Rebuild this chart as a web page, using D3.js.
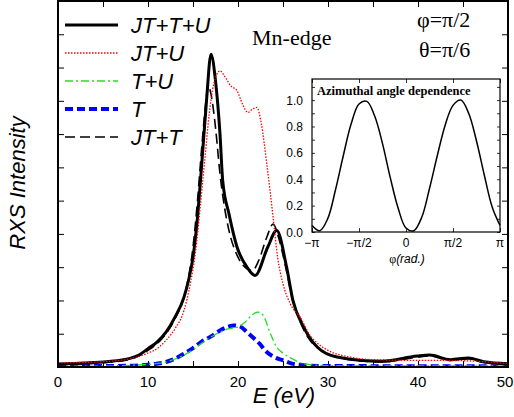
<!DOCTYPE html>
<html>
<head>
<meta charset="utf-8">
<script src="https://cdn.jsdelivr.net/npm/d3@7"></script>
<style>
  body { margin: 0; background: #fff; }
  svg { display: block; }
</style>
</head>
<body>
<div id="chart"></div>
<script>
// energy (eV) and RXS intensity (arb. units)
const jttuE = [0, 3, 5.4, 8, 9, 10, 11, 12, 13, 14, 14.5, 15, 15.5, 16, 16.5, 17, 17.5, 18, 18.3, 19, 19.9, 21, 21.9, 23.3, 24.3, 25.4, 26.1, 27.3, 28.8, 31, 36, 39.9, 41.3, 43.6, 45.6, 47.3, 50];
const jttuI = [0.09, 0.12, 0.16, 0.26, 0.36, 0.55, 0.75, 1.05, 1.5, 2.1, 2.6, 3.3, 4.5, 6.2, 8.0, 9.4, 8.6, 7.0, 5.6, 4.6, 3.6, 3.0, 2.75, 3.6, 4.1, 3.0, 2.0, 1.2, 0.6, 0.3, 0.17, 0.33, 0.36, 0.22, 0.27, 0.16, 0.1];

const jtuE = [0, 3, 5, 8, 10, 11, 12, 13, 14, 14.7, 15.3, 15.8, 16.3, 16.8, 17.3, 18, 18.6, 19.2, 19.9, 20.5, 21.1, 21.6, 22.1, 22.6, 23.2, 23.9, 24.4, 25, 25.8, 26.9, 28, 28.8, 30, 32.4, 35, 40, 42, 46, 50];
const jtuI = [0.12, 0.14, 0.16, 0.25, 0.42, 0.55, 0.8, 1.15, 1.7, 2.5, 3.5, 4.8, 6.2, 7.6, 8.5, 8.9, 8.7, 8.45, 8.3, 7.9, 7.65, 7.75, 7.8, 7.3, 6.1, 4.5, 3.3, 2.5, 1.9, 1.5, 0.95, 0.72, 0.5, 0.3, 0.22, 0.2, 0.2, 0.18, 0.1];

const tuE = [0, 5, 8, 10, 12, 13, 14, 15, 16, 17, 18, 19, 20, 20.8, 21.5, 22.2, 22.8, 23.6, 24.3, 25, 26, 27, 28, 30, 40, 50];
const tuI = [0.02, 0.03, 0.05, 0.08, 0.15, 0.24, 0.36, 0.52, 0.72, 0.9, 1.05, 1.15, 1.2, 1.35, 1.55, 1.65, 1.55, 1.0, 0.6, 0.42, 0.25, 0.12, 0.07, 0.04, 0.03, 0.03];

const tE = [0, 5, 8, 10, 11, 12, 13, 14, 15, 16, 17, 18, 19, 19.5, 20.2, 21, 22, 22.4, 23, 24, 25, 26, 27, 28, 30, 50];
const tI = [0.03, 0.03, 0.04, 0.07, 0.1, 0.15, 0.25, 0.4, 0.57, 0.77, 0.92, 1.1, 1.22, 1.25, 1.22, 1.05, 0.8, 0.7, 0.5, 0.3, 0.2, 0.1, 0.06, 0.04, 0.03, 0.02];

const jttE = [0, 5, 8, 10, 11, 12, 13, 14, 14.5, 15, 15.5, 16, 16.4, 16.7, 17, 17.5, 18, 18.5, 19, 20, 21, 21.6, 22.3, 23.2, 23.9, 24.5, 25.3, 26, 27, 28, 29, 31, 36, 40, 41.3, 43.6, 45.6, 47.3, 50];
const jttI = [0.07, 0.13, 0.23, 0.5, 0.7, 1.0, 1.45, 2.1, 2.7, 3.6, 5.0, 6.7, 7.9, 8.45, 8.2, 7.2, 5.8, 4.8, 4.1, 3.3, 2.95, 2.9, 3.2, 3.9, 4.3, 3.9, 3.0, 2.1, 1.3, 0.8, 0.55, 0.3, 0.15, 0.3, 0.33, 0.2, 0.25, 0.14, 0.1];

// inset: azimuthal angle dependence
const phiDeg = [-180, -165, -150, -135, -120, -105, -90, -75, -60, -45, -30, -15, 0, 15, 30, 45, 60, 75, 90, 105, 120, 135, 150, 165, 180];
const azimI = [0.05, 0.01, 0.1, 0.32, 0.58, 0.82, 0.97, 0.99, 0.88, 0.67, 0.41, 0.18, 0.03, 0.01, 0.11, 0.33, 0.58, 0.81, 0.96, 1.0, 0.9, 0.69, 0.43, 0.19, 0.05];

const eTicks = [0, 10, 20, 30, 40, 50];
const phiTicks = [-180, -90, 0, 90, 180];
const phiLabels = ["\u2212\u03c0", "\u2212\u03c0/2", "0", "\u03c0/2", "\u03c0"];
const azTicks = [0, 0.2, 0.4, 0.6, 0.8, 1.0];

const series = [
  { name: "JT+T+U", e: jttuE, v: jttuI, color: "#000", width: 3, dash: null },
  { name: "JT+U", e: jtuE, v: jtuI, color: "#f00", width: 1.3, dash: "1.5,1.5" },
  { name: "T+U", e: tuE, v: tuI, color: "#2d2", width: 1.3, dash: "8,3,2,3" },
  { name: "T", e: tE, v: tI, color: "#00f", width: 4, dash: "8,4" },
  { name: "JT+T", e: jttE, v: jttI, color: "#000", width: 1.6, dash: "10,5" }
];

const W = 514, H = 417;
const L = 58, R = 508, T = 1, B = 367;

const svg = d3.select("#chart").append("svg")
  .attr("width", W).attr("height", H);

const x = d3.scaleLinear().domain([0, 50]).range([L, R]);
const y = d3.scaleLinear().domain([0, 11]).range([B, T]);

svg.append("clipPath").attr("id", "clip")
  .append("rect").attr("x", L).attr("y", T).attr("width", R - L).attr("height", B - T);

// ticks (inward, every 5 eV / every unit)
const axB = svg.append("g").attr("transform", `translate(0,${B})`)
  .call(d3.axisBottom(x).tickValues(d3.range(0, 51, 5)).tickSize(-6).tickFormat(""));
const axT = svg.append("g").attr("transform", `translate(0,${T})`)
  .call(d3.axisTop(x).tickValues(d3.range(0, 51, 5)).tickSize(-6).tickFormat(""));
const axL = svg.append("g").attr("transform", `translate(${L},0)`)
  .call(d3.axisLeft(y).tickValues(d3.range(1, 11)).tickSize(-6).tickFormat(""));
const axR = svg.append("g").attr("transform", `translate(${R},0)`)
  .call(d3.axisRight(y).tickValues(d3.range(1, 11)).tickSize(-6).tickFormat(""));
[axB, axT, axL, axR].forEach(g => {
  g.select(".domain").remove();
  g.selectAll("line").attr("stroke", "#000").attr("stroke-width", 1);
});

// the last label would run past the page edge, so it is kept just inside
svg.append("g").selectAll("text").data(eTicks).join("text")
  .attr("x", d => Math.min(x(d), W - 9)).attr("y", 387)
  .attr("text-anchor", "middle")
  .attr("font-family", "Liberation Sans, Arial, sans-serif")
  .attr("font-size", 15)
  .text(d => d);

const line = d3.line()
  .x(d => x(d[0])).y(d => y(d[1]))
  .curve(d3.curveMonotoneX);

const plot = svg.append("g").attr("clip-path", "url(#clip)");
// draw order: thin ones on top of thick ones like the figure
[3, 2, 0, 4, 1].forEach(i => {
  const s = series[i];
  plot.append("path")
    .datum(s.e.map((e, k) => [e, s.v[k]]))
    .attr("d", line)
    .attr("fill", "none")
    .attr("stroke", s.color)
    .attr("stroke-width", s.width)
    .attr("stroke-dasharray", s.dash)
    .attr("stroke-linejoin", "round");
});

svg.append("rect")
  .attr("x", L).attr("y", T).attr("width", R - L).attr("height", B - T)
  .attr("fill", "none").attr("stroke", "#000").attr("stroke-width", 2);

// legend
const leg = svg.append("g");
series.forEach((s, i) => {
  const ly = 25 + i * 28;
  leg.append("line")
    .attr("x1", 65).attr("x2", 118).attr("y1", ly).attr("y2", ly)
    .attr("stroke", s.color).attr("stroke-width", s.width)
    .attr("stroke-dasharray", s.dash);
  leg.append("text")
    .attr("x", 131).attr("y", ly + 8)
    .attr("font-family", "Liberation Sans, Arial, sans-serif")
    .attr("font-style", "italic")
    .attr("font-size", 22)
    .text(s.name);
});

// annotations
const serif = "Liberation Serif, Times New Roman, serif";
svg.append("text").attr("x", 252).attr("y", 45)
  .attr("font-family", serif).attr("font-size", 22).text("Mn-edge");
svg.append("text").attr("x", 417).attr("y", 27)
  .attr("font-family", serif).attr("font-size", 22).text("\u03c6=\u03c0/2");
svg.append("text").attr("x", 419).attr("y", 57)
  .attr("font-family", serif).attr("font-size", 22).text("\u03b8=\u03c0/6");

// axis titles
svg.append("text")
  .attr("transform", "translate(25,183) rotate(-90)")
  .attr("text-anchor", "middle")
  .attr("font-family", "Liberation Sans, Arial, sans-serif")
  .attr("font-style", "italic").attr("font-size", 22)
  .text("RXS Intensity");
svg.append("text")
  .attr("x", 284).attr("y", 403)
  .attr("text-anchor", "middle")
  .attr("font-family", "Liberation Sans, Arial, sans-serif")
  .attr("font-style", "italic").attr("font-size", 22)
  .text("E (eV)");

// ---- inset ----
const iL = 312, iR = 500, iT = 79, iB = 232;
const ix = d3.scaleLinear().domain([-180, 180]).range([iL, iR]);
const iy = d3.scaleLinear().domain([0, 1.16]).range([iB, iT]);

const ins = svg.append("g");
ins.append("rect").attr("x", iL).attr("y", iT).attr("width", iR - iL).attr("height", iB - iT)
  .attr("fill", "#fff");

const iaxB = ins.append("g").attr("transform", `translate(0,${iB})`)
  .call(d3.axisBottom(ix).tickValues(phiTicks).tickSize(-4).tickFormat(""));
const iaxT = ins.append("g").attr("transform", `translate(0,${iT})`)
  .call(d3.axisTop(ix).tickValues(phiTicks).tickSize(-4).tickFormat(""));
const iaxL = ins.append("g").attr("transform", `translate(${iL},0)`)
  .call(d3.axisLeft(iy).tickValues(d3.range(0, 1.11, 0.1)).tickSize(-3).tickFormat(""));
const iaxR = ins.append("g").attr("transform", `translate(${iR},0)`)
  .call(d3.axisRight(iy).tickValues(d3.range(0, 1.11, 0.1)).tickSize(-3).tickFormat(""));
[iaxB, iaxT, iaxL, iaxR].forEach(g => {
  g.select(".domain").remove();
  g.selectAll("line").attr("stroke", "#000").attr("stroke-width", 0.8);
});

ins.append("g").selectAll("text").data(azTicks).join("text")
  .attr("x", 303).attr("y", d => iy(d) + 4.5)
  .attr("text-anchor", "end")
  .attr("font-family", "Liberation Sans, Arial, sans-serif")
  .attr("font-size", 12)
  .text(d => d.toFixed(1));
ins.append("g").selectAll("text").data(phiTicks).join("text")
  .attr("x", d => ix(d)).attr("y", 247)
  .attr("text-anchor", "middle")
  .attr("font-family", "Liberation Sans, Arial, sans-serif")
  .attr("font-size", 12)
  .text((d, i) => phiLabels[i]);

const axisTitle = ins.append("text").attr("x", 407).attr("y", 263)
  .attr("text-anchor", "middle")
  .attr("font-family", "Liberation Sans, Arial, sans-serif")
  .attr("font-size", 12);
axisTitle.append("tspan").attr("font-family", serif).text("\u03c6");
axisTitle.append("tspan").attr("font-style", "italic").text("(rad.)");

const iline = d3.line()
  .x(d => ix(d[0])).y(d => iy(d[1]))
  .curve(d3.curveCatmullRom);
ins.append("path")
  .datum(phiDeg.map((p, k) => [p, azimI[k]]))
  .attr("d", iline)
  .attr("fill", "none").attr("stroke", "#000").attr("stroke-width", 1.5);

ins.append("rect").attr("x", iL).attr("y", iT).attr("width", iR - iL).attr("height", iB - iT)
  .attr("fill", "none").attr("stroke", "#000").attr("stroke-width", 1.2);

ins.append("text").attr("x", 317).attr("y", 95)
  .attr("font-family", serif).attr("font-weight", "bold").attr("font-size", 12.5)
  .text("Azimuthal angle dependence");
</script>
</body>
</html>
